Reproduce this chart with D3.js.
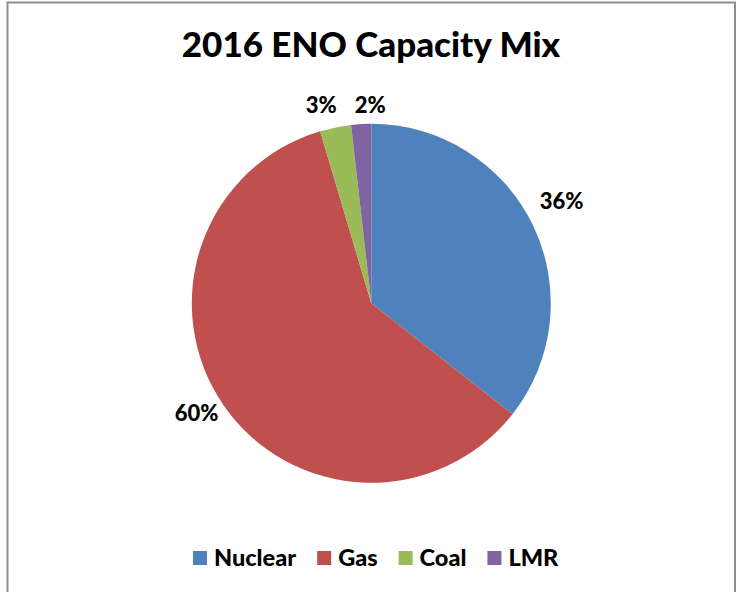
<!DOCTYPE html>
<html>
<head>
<meta charset="utf-8">
<script src="https://cdn.jsdelivr.net/npm/d3@7"></script>
<style>
  html, body { margin: 0; padding: 0; background: #fff; }
  svg { display: block; }
  text { font-family: Lato, "Open Sans", sans-serif; font-weight: 900; fill: #000; }
</style>
</head>
<body>
<svg id="chart" width="740" height="592"></svg>
<script>
const title = "2016 ENO Capacity Mix";
const categories = ["Nuclear", "Gas", "Coal", "LMR"];
const values = [35.6, 59.8, 2.8, 1.8];
const colors = ["#4F81BD", "#C0504D", "#9BBB59", "#8064A2"];

const svg = d3.select("#chart");

// chart border
svg.append("rect")
  .attr("x", 7.5).attr("y", 2.5)
  .attr("width", 727.5).attr("height", 600)
  .attr("fill", "#fff")
  .attr("stroke", "#8f8f8f")
  .attr("stroke-width", 2);

// title
svg.append("text")
  .attr("x", 371).attr("y", 57)
  .attr("text-anchor", "middle")
  .style("font-size", "35px")
  .text(title);

const cx = 371.3, cy = 303.3, r = 179.5;
const data = categories.map((c, i) => ({ cat: c, value: values[i], color: colors[i] }));
const pie = d3.pie().value(d => d.value).sort(null);
const arcs = pie(data);
const arc = d3.arc().innerRadius(0).outerRadius(r);

const g = svg.append("g").attr("transform", `translate(${cx},${cy})`);
g.selectAll("path.slice").data(arcs).join("path")
  .attr("class", "slice")
  .attr("d", arc)
  .attr("fill", d => d.data.color);

// data labels: outside end, box just clear of the rim
const total = d3.sum(values);
const fmt = v => Math.round(v / total * 100) + "%";
const labels = g.selectAll("text.lbl").data(arcs).join("text")
  .attr("class", "lbl")
  .attr("text-anchor", "middle")
  .attr("dy", "0.36em")
  .style("font-size", "22px")
  .text(d => fmt(d.data.value));

const gap = 8, halfH = 10, lift = 11;
const pos = [];
labels.each(function(d) {
  const a = (d.startAngle + d.endAngle) / 2;
  const w = this.getComputedTextLength();
  const s = Math.sin(a), c = Math.cos(a);
  const dist = r + gap + Math.abs(s) * w / 2 + Math.abs(c) * halfH;
  pos.push({ x: s * dist, y: -c * dist - lift * Math.abs(s), w });
});
// resolve horizontal overlaps between neighbouring labels
const minGap = 18;
for (let iter = 0; iter < 10; iter++) {
  for (let i = 0; i < pos.length; i++) {
    for (let j = i + 1; j < pos.length; j++) {
      const p = pos[i], q = pos[j];
      if (Math.abs(p.y - q.y) < 2 * halfH + 4) {
        const need = (p.w + q.w) / 2 + minGap;
        const dx = q.x - p.x;
        if (Math.abs(dx) < need) {
          const push = (need - Math.abs(dx)) / 2 * (dx >= 0 ? 1 : -1);
          p.x -= push; q.x += push;
        }
      }
    }
  }
}
labels.attr("x", (d, i) => pos[i].x).attr("y", (d, i) => pos[i].y);

// legend
const lg = svg.append("g");
const sq = 14, gapText = 7, gapItem = 21, legY = 558;
const items = lg.selectAll("g.item").data(data).join("g").attr("class", "item");
items.append("rect").attr("width", sq).attr("height", sq).attr("y", legY - 7)
  .attr("fill", d => d.color);
items.append("text").attr("x", sq + gapText).attr("y", legY + 8)
  .style("font-size", "23.5px")
  .text(d => d.cat);
const widths = [];
items.each(function() { widths.push(this.getBBox().width); });
const totalW = d3.sum(widths) + gapItem * (widths.length - 1);
let xPos = 376 - totalW / 2;
items.attr("transform", (d, i) => {
  const x = xPos; xPos += widths[i] + gapItem; return `translate(${x},0)`;
});
</script>
</body>
</html>
